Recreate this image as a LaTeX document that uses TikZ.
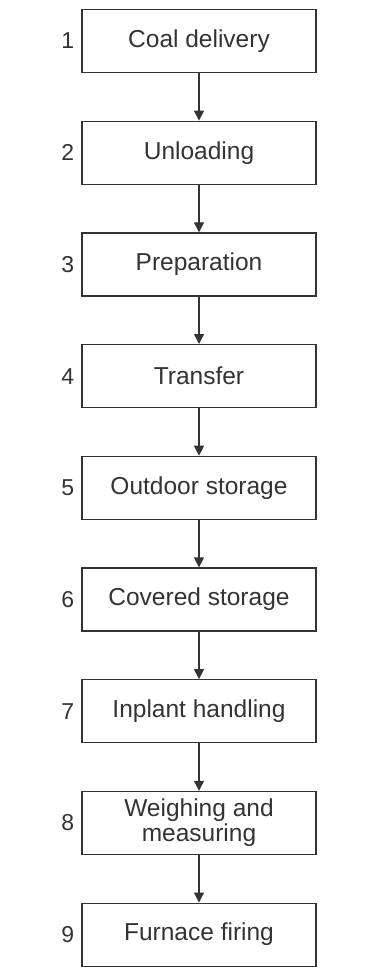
\documentclass[tikz,border=0pt]{standalone}
\usepackage{fontspec}
\setmainfont{Liberation Sans}
\usetikzlibrary{arrows.meta,
                positioning}

\begin{document}
\begin{tikzpicture}[x=1pt, y=1pt,
stepbox/.style = {draw=black!80, line width=1.2pt, text=black!80,
                  minimum width=234pt, minimum height=63pt,
                  align=center, inner sep=2pt,
                  font=\fontsize{24.5}{25}\selectfont},
stepnum/.style = {text=black!80, inner sep=0pt,
                  font=\fontsize{23}{24}\selectfont},
every edge/.style = {draw=black!80, line width=1.2pt,
                     -{Triangle[length=10pt,width=10pt]}}
                    ]
\useasboundingbox (0,0) rectangle (379,-971);
%
\foreach \i/\txt in {1/Coal delivery, 2/Unloading, 3/Preparation,
                     4/Transfer, 5/Outdoor storage, 6/Covered storage,
                     7/Inplant handling, 8/Weighing and\\measuring,
                     9/Furnace firing}
  {
    \node[stepbox] (b\i) at (199,{-41-111.7*(\i-1)}) {\txt};
    \node[stepnum, left=7pt of b\i.west] (n\i) {\i};
  }
%
\foreach \i [evaluate=\i as \j using int(\i+1)] in {1,...,8}
    \draw (b\i) edge (b\j);
\end{tikzpicture}
\end{document}
